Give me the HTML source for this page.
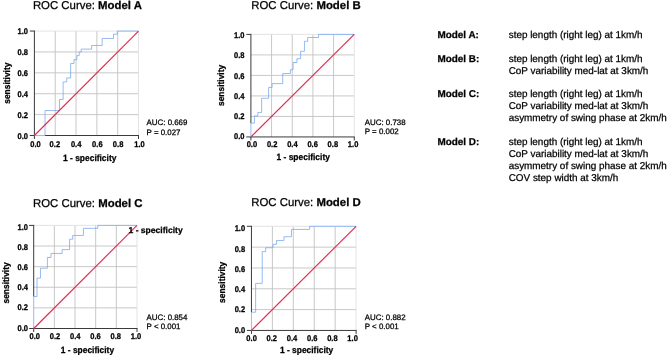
<!DOCTYPE html><html><head><meta charset="utf-8"><title>ROC curves</title><style>html,body{margin:0;padding:0;background:#fff}svg{display:block;will-change:transform}text{font-family:"Liberation Sans",sans-serif;fill:#000;stroke:#000;stroke-width:0.25px;text-rendering:geometricPrecision}</style></head><body>
<svg width="668" height="358" viewBox="0 0 668 358">
<rect width="668" height="358" fill="#fff"/>
<g>
<line x1="55.22" y1="31.05" x2="55.22" y2="135.50" stroke="#c2c2c2" stroke-width="0.9"/>
<line x1="34.40" y1="114.61" x2="138.50" y2="114.61" stroke="#c2c2c2" stroke-width="0.9"/>
<line x1="76.04" y1="31.05" x2="76.04" y2="135.50" stroke="#c2c2c2" stroke-width="0.9"/>
<line x1="34.40" y1="93.72" x2="138.50" y2="93.72" stroke="#c2c2c2" stroke-width="0.9"/>
<line x1="96.86" y1="31.05" x2="96.86" y2="135.50" stroke="#c2c2c2" stroke-width="0.9"/>
<line x1="34.40" y1="72.83" x2="138.50" y2="72.83" stroke="#c2c2c2" stroke-width="0.9"/>
<line x1="117.68" y1="31.05" x2="117.68" y2="135.50" stroke="#c2c2c2" stroke-width="0.9"/>
<line x1="34.40" y1="51.94" x2="138.50" y2="51.94" stroke="#c2c2c2" stroke-width="0.9"/>
<line x1="138.50" y1="31.05" x2="138.50" y2="135.50" stroke="#e0e0e0" stroke-width="0.9"/>
<line x1="34.40" y1="31.05" x2="138.50" y2="31.05" stroke="#e0e0e0" stroke-width="0.9"/>
<line x1="34.40" y1="30.55" x2="34.40" y2="136.00" stroke="#3a3a3a" stroke-width="1"/>
<line x1="34.40" y1="135.50" x2="34.40" y2="139.00" stroke="#3a3a3a" stroke-width="1"/>
<line x1="29.80" y1="135.50" x2="34.90" y2="135.50" stroke="#3a3a3a" stroke-width="1"/>
<line x1="45.02" y1="135.50" x2="139.00" y2="135.50" stroke="#3a3a3a" stroke-width="1"/>
<line x1="138.50" y1="135.50" x2="138.50" y2="139.00" stroke="#3a3a3a" stroke-width="1"/>
<line x1="29.80" y1="31.05" x2="34.40" y2="31.05" stroke="#3a3a3a" stroke-width="1"/>
<path d="M34.40 135.50 L45.02 135.50 L45.02 110.54 L59.49 110.54 L59.49 99.46 L63.13 99.46 L63.13 81.92 L66.78 81.92 L66.78 77.95 L70.63 77.95 L70.63 63.53 L73.96 63.53 L73.96 59.67 L76.87 59.67 L76.87 55.60 L79.16 55.60 L79.16 51.94 L81.25 51.94 L81.25 49.12 L91.66 49.12 L91.66 45.46 L102.17 45.46 L102.17 38.47 L113.52 38.47 L113.52 34.18 L117.26 34.18 L117.26 31.05 L138.50 31.05" fill="none" stroke="#72a6ef" stroke-width="0.75"/>
<line x1="34.40" y1="135.50" x2="138.50" y2="31.05" stroke="#e32a52" stroke-width="1.15"/>
<text transform="translate(35.50 147.00) scale(0.98 1.07)" font-size="7.7" font-weight="bold" text-anchor="middle">0.0</text>
<text transform="translate(28.00 139.00) scale(0.98 1.07)" font-size="7.7" font-weight="bold" text-anchor="end">0.0</text>
<text transform="translate(54.85 147.00) scale(0.98 1.07)" font-size="7.7" font-weight="bold" text-anchor="middle">0.2</text>
<text transform="translate(28.00 118.02) scale(0.98 1.07)" font-size="7.7" font-weight="bold" text-anchor="end">0.2</text>
<text transform="translate(76.15 147.00) scale(0.98 1.07)" font-size="7.7" font-weight="bold" text-anchor="middle">0.4</text>
<text transform="translate(28.00 97.04) scale(0.98 1.07)" font-size="7.7" font-weight="bold" text-anchor="end">0.4</text>
<text transform="translate(97.35 147.00) scale(0.98 1.07)" font-size="7.7" font-weight="bold" text-anchor="middle">0.6</text>
<text transform="translate(28.00 76.06) scale(0.98 1.07)" font-size="7.7" font-weight="bold" text-anchor="end">0.6</text>
<text transform="translate(118.10 147.00) scale(0.98 1.07)" font-size="7.7" font-weight="bold" text-anchor="middle">0.8</text>
<text transform="translate(28.00 55.08) scale(0.98 1.07)" font-size="7.7" font-weight="bold" text-anchor="end">0.8</text>
<text transform="translate(139.55 147.00) scale(0.98 1.07)" font-size="7.7" font-weight="bold" text-anchor="middle">1.0</text>
<text transform="translate(28.00 34.10) scale(0.98 1.07)" font-size="7.7" font-weight="bold" text-anchor="end">1.0</text>
<text transform="translate(89.70 160.50) scale(0.985 1.07)" font-size="8.55" font-weight="bold" text-anchor="middle">1 - specificity</text>
<text transform="translate(9.80 83.20) rotate(-90) scale(0.985 1.07)" font-size="8.55" font-weight="bold" text-anchor="middle">sensitivity</text>
<text x="32.9" y="9.4" font-size="11.4">ROC Curve: <tspan font-weight="bold">Model A</tspan></text>
<text x="146.6" y="124.8" font-size="7.9">AUC: 0.669</text>
<text x="146.6" y="134.60" font-size="7.9">P = 0.027</text>
</g>
<g>
<line x1="271.57" y1="34.40" x2="271.57" y2="136.95" stroke="#c2c2c2" stroke-width="0.9"/>
<line x1="250.90" y1="116.44" x2="354.25" y2="116.44" stroke="#c2c2c2" stroke-width="0.9"/>
<line x1="292.24" y1="34.40" x2="292.24" y2="136.95" stroke="#c2c2c2" stroke-width="0.9"/>
<line x1="250.90" y1="95.93" x2="354.25" y2="95.93" stroke="#c2c2c2" stroke-width="0.9"/>
<line x1="312.91" y1="34.40" x2="312.91" y2="136.95" stroke="#c2c2c2" stroke-width="0.9"/>
<line x1="250.90" y1="75.42" x2="354.25" y2="75.42" stroke="#c2c2c2" stroke-width="0.9"/>
<line x1="333.58" y1="34.40" x2="333.58" y2="136.95" stroke="#c2c2c2" stroke-width="0.9"/>
<line x1="250.90" y1="54.91" x2="354.25" y2="54.91" stroke="#c2c2c2" stroke-width="0.9"/>
<line x1="354.25" y1="34.40" x2="354.25" y2="136.95" stroke="#e0e0e0" stroke-width="0.9"/>
<line x1="250.90" y1="34.40" x2="354.25" y2="34.40" stroke="#e0e0e0" stroke-width="0.9"/>
<line x1="250.90" y1="33.90" x2="250.90" y2="123.11" stroke="#3a3a3a" stroke-width="1"/>
<line x1="250.90" y1="136.95" x2="250.90" y2="140.45" stroke="#3a3a3a" stroke-width="1"/>
<line x1="246.30" y1="136.95" x2="251.40" y2="136.95" stroke="#3a3a3a" stroke-width="1"/>
<line x1="250.90" y1="136.95" x2="354.75" y2="136.95" stroke="#3a3a3a" stroke-width="1"/>
<line x1="354.25" y1="136.95" x2="354.25" y2="140.45" stroke="#3a3a3a" stroke-width="1"/>
<line x1="246.30" y1="34.40" x2="250.90" y2="34.40" stroke="#3a3a3a" stroke-width="1"/>
<path d="M250.90 136.95 L250.90 123.11 L254.41 123.11 L254.41 115.93 L257.82 115.93 L257.82 112.44 L261.65 112.44 L261.65 98.29 L268.57 98.29 L268.57 87.42 L272.09 87.42 L272.09 83.62 L282.73 83.62 L282.73 73.57 L290.38 73.57 L290.38 69.78 L293.07 69.78 L293.07 62.50 L296.89 62.50 L296.89 58.70 L300.61 58.70 L300.61 51.32 L304.44 51.32 L304.44 41.27 L307.74 41.27 L307.74 37.48 L318.59 37.48 L318.59 34.40 L354.25 34.40" fill="none" stroke="#72a6ef" stroke-width="0.75"/>
<line x1="250.90" y1="136.95" x2="354.25" y2="34.40" stroke="#e32a52" stroke-width="1.15"/>
<text transform="translate(251.90 147.15) scale(0.98 1.07)" font-size="7.7" font-weight="bold" text-anchor="middle">0.0</text>
<text transform="translate(244.50 139.35) scale(0.98 1.07)" font-size="7.7" font-weight="bold" text-anchor="end">0.0</text>
<text transform="translate(272.14 147.15) scale(0.98 1.07)" font-size="7.7" font-weight="bold" text-anchor="middle">0.2</text>
<text transform="translate(244.50 119.12) scale(0.98 1.07)" font-size="7.7" font-weight="bold" text-anchor="end">0.2</text>
<text transform="translate(292.38 147.15) scale(0.98 1.07)" font-size="7.7" font-weight="bold" text-anchor="middle">0.4</text>
<text transform="translate(244.50 98.89) scale(0.98 1.07)" font-size="7.7" font-weight="bold" text-anchor="end">0.4</text>
<text transform="translate(312.62 147.15) scale(0.98 1.07)" font-size="7.7" font-weight="bold" text-anchor="middle">0.6</text>
<text transform="translate(244.50 78.66) scale(0.98 1.07)" font-size="7.7" font-weight="bold" text-anchor="end">0.6</text>
<text transform="translate(332.86 147.15) scale(0.98 1.07)" font-size="7.7" font-weight="bold" text-anchor="middle">0.8</text>
<text transform="translate(244.50 58.43) scale(0.98 1.07)" font-size="7.7" font-weight="bold" text-anchor="end">0.8</text>
<text transform="translate(353.10 147.15) scale(0.98 1.07)" font-size="7.7" font-weight="bold" text-anchor="middle">1.0</text>
<text transform="translate(244.50 38.20) scale(0.98 1.07)" font-size="7.7" font-weight="bold" text-anchor="end">1.0</text>
<text transform="translate(303.20 160.30) scale(0.985 1.07)" font-size="8.55" font-weight="bold" text-anchor="middle">1 - specificity</text>
<text transform="translate(224.40 85.40) rotate(-90) scale(0.985 1.07)" font-size="8.55" font-weight="bold" text-anchor="middle">sensitivity</text>
<text x="251.2" y="9.4" font-size="11.4">ROC Curve: <tspan font-weight="bold">Model B</tspan></text>
<text x="364.8" y="124.6" font-size="7.9">AUC: 0.738</text>
<text x="364.8" y="134.40" font-size="7.9">P = 0.002</text>
</g>
<g>
<line x1="54.36" y1="225.40" x2="54.36" y2="328.50" stroke="#c2c2c2" stroke-width="0.9"/>
<line x1="33.70" y1="307.88" x2="137.00" y2="307.88" stroke="#c2c2c2" stroke-width="0.9"/>
<line x1="75.02" y1="225.40" x2="75.02" y2="328.50" stroke="#c2c2c2" stroke-width="0.9"/>
<line x1="33.70" y1="287.26" x2="137.00" y2="287.26" stroke="#c2c2c2" stroke-width="0.9"/>
<line x1="95.68" y1="225.40" x2="95.68" y2="328.50" stroke="#c2c2c2" stroke-width="0.9"/>
<line x1="33.70" y1="266.64" x2="137.00" y2="266.64" stroke="#c2c2c2" stroke-width="0.9"/>
<line x1="116.34" y1="225.40" x2="116.34" y2="328.50" stroke="#c2c2c2" stroke-width="0.9"/>
<line x1="33.70" y1="246.02" x2="137.00" y2="246.02" stroke="#c2c2c2" stroke-width="0.9"/>
<line x1="137.00" y1="225.40" x2="137.00" y2="328.50" stroke="#e0e0e0" stroke-width="0.9"/>
<line x1="33.70" y1="225.40" x2="137.00" y2="225.40" stroke="#e0e0e0" stroke-width="0.9"/>
<line x1="33.70" y1="224.90" x2="33.70" y2="296.54" stroke="#3a3a3a" stroke-width="1"/>
<line x1="33.70" y1="328.50" x2="33.70" y2="332.00" stroke="#3a3a3a" stroke-width="1"/>
<line x1="29.10" y1="328.50" x2="34.20" y2="328.50" stroke="#3a3a3a" stroke-width="1"/>
<line x1="33.70" y1="328.50" x2="137.50" y2="328.50" stroke="#3a3a3a" stroke-width="1"/>
<line x1="137.00" y1="328.50" x2="137.00" y2="332.00" stroke="#3a3a3a" stroke-width="1"/>
<line x1="29.10" y1="225.40" x2="33.70" y2="225.40" stroke="#3a3a3a" stroke-width="1"/>
<path d="M33.70 328.50 L33.70 296.54 L37.01 296.54 L37.01 278.14 L40.47 278.14 L40.47 268.19 L47.40 268.19 L47.40 257.46 L51.03 257.46 L51.03 253.44 L62.12 253.44 L62.12 249.63 L69.57 249.63 L69.57 239.22 L72.69 239.22 L72.69 235.44 L83.42 235.44 L83.42 228.34 L97.80 228.34 L97.80 225.40 L137.00 225.40" fill="none" stroke="#72a6ef" stroke-width="0.75"/>
<line x1="33.70" y1="328.50" x2="137.00" y2="225.40" stroke="#e32a52" stroke-width="1.15"/>
<text transform="translate(34.80 338.50) scale(0.98 1.07)" font-size="7.7" font-weight="bold" text-anchor="middle">0.0</text>
<text transform="translate(28.00 330.65) scale(0.98 1.07)" font-size="7.7" font-weight="bold" text-anchor="end">0.0</text>
<text transform="translate(55.03 338.50) scale(0.98 1.07)" font-size="7.7" font-weight="bold" text-anchor="middle">0.2</text>
<text transform="translate(28.00 310.42) scale(0.98 1.07)" font-size="7.7" font-weight="bold" text-anchor="end">0.2</text>
<text transform="translate(75.26 338.50) scale(0.98 1.07)" font-size="7.7" font-weight="bold" text-anchor="middle">0.4</text>
<text transform="translate(28.00 290.19) scale(0.98 1.07)" font-size="7.7" font-weight="bold" text-anchor="end">0.4</text>
<text transform="translate(95.49 338.50) scale(0.98 1.07)" font-size="7.7" font-weight="bold" text-anchor="middle">0.6</text>
<text transform="translate(28.00 269.96) scale(0.98 1.07)" font-size="7.7" font-weight="bold" text-anchor="end">0.6</text>
<text transform="translate(115.72 338.50) scale(0.98 1.07)" font-size="7.7" font-weight="bold" text-anchor="middle">0.8</text>
<text transform="translate(28.00 249.73) scale(0.98 1.07)" font-size="7.7" font-weight="bold" text-anchor="end">0.8</text>
<text transform="translate(135.95 338.50) scale(0.98 1.07)" font-size="7.7" font-weight="bold" text-anchor="middle">1.0</text>
<text transform="translate(28.00 229.50) scale(0.98 1.07)" font-size="7.7" font-weight="bold" text-anchor="end">1.0</text>
<text transform="translate(87.40 353.45) scale(0.985 1.07)" font-size="8.55" font-weight="bold" text-anchor="middle">1 - specificity</text>
<text transform="translate(8.90 282.90) rotate(-90) scale(0.985 1.07)" font-size="8.55" font-weight="bold" text-anchor="middle">sensitivity</text>
<text x="33" y="207.0" font-size="11.4">ROC Curve: <tspan font-weight="bold">Model C</tspan></text>
<text x="146.6" y="319.65" font-size="7.9">AUC: 0.854</text>
<text x="146.6" y="329.45" font-size="7.9">P &lt; 0.001</text>
</g>
<g>
<line x1="272.38" y1="226.30" x2="272.38" y2="330.45" stroke="#c2c2c2" stroke-width="0.9"/>
<line x1="251.45" y1="309.62" x2="356.10" y2="309.62" stroke="#c2c2c2" stroke-width="0.9"/>
<line x1="293.31" y1="226.30" x2="293.31" y2="330.45" stroke="#c2c2c2" stroke-width="0.9"/>
<line x1="251.45" y1="288.79" x2="356.10" y2="288.79" stroke="#c2c2c2" stroke-width="0.9"/>
<line x1="314.24" y1="226.30" x2="314.24" y2="330.45" stroke="#c2c2c2" stroke-width="0.9"/>
<line x1="251.45" y1="267.96" x2="356.10" y2="267.96" stroke="#c2c2c2" stroke-width="0.9"/>
<line x1="335.17" y1="226.30" x2="335.17" y2="330.45" stroke="#c2c2c2" stroke-width="0.9"/>
<line x1="251.45" y1="247.13" x2="356.10" y2="247.13" stroke="#c2c2c2" stroke-width="0.9"/>
<line x1="356.10" y1="226.30" x2="356.10" y2="330.45" stroke="#e0e0e0" stroke-width="0.9"/>
<line x1="251.45" y1="226.30" x2="356.10" y2="226.30" stroke="#e0e0e0" stroke-width="0.9"/>
<line x1="251.45" y1="225.80" x2="251.45" y2="312.22" stroke="#3a3a3a" stroke-width="1"/>
<line x1="251.45" y1="330.45" x2="251.45" y2="333.95" stroke="#3a3a3a" stroke-width="1"/>
<line x1="246.85" y1="330.45" x2="251.95" y2="330.45" stroke="#3a3a3a" stroke-width="1"/>
<line x1="251.45" y1="330.45" x2="356.60" y2="330.45" stroke="#3a3a3a" stroke-width="1"/>
<line x1="356.10" y1="330.45" x2="356.10" y2="333.95" stroke="#3a3a3a" stroke-width="1"/>
<line x1="246.85" y1="226.30" x2="251.45" y2="226.30" stroke="#3a3a3a" stroke-width="1"/>
<path d="M251.45 330.45 L251.45 312.22 L255.64 312.22 L255.64 283.37 L262.23 283.37 L262.23 251.61 L265.68 251.61 L265.68 247.75 L273.01 247.75 L273.01 244.32 L276.46 244.32 L276.46 240.57 L283.89 240.57 L283.89 236.72 L291.43 236.72 L291.43 229.42 L309.64 229.42 L309.64 226.30 L356.10 226.30" fill="none" stroke="#72a6ef" stroke-width="0.75"/>
<line x1="251.45" y1="330.45" x2="356.10" y2="226.30" stroke="#e32a52" stroke-width="1.15"/>
<text transform="translate(251.60 341.25) scale(0.98 1.07)" font-size="7.7" font-weight="bold" text-anchor="middle">0.0</text>
<text transform="translate(245.10 332.55) scale(0.98 1.07)" font-size="7.7" font-weight="bold" text-anchor="end">0.0</text>
<text transform="translate(271.80 341.25) scale(0.98 1.07)" font-size="7.7" font-weight="bold" text-anchor="middle">0.2</text>
<text transform="translate(245.10 312.31) scale(0.98 1.07)" font-size="7.7" font-weight="bold" text-anchor="end">0.2</text>
<text transform="translate(292.00 341.25) scale(0.98 1.07)" font-size="7.7" font-weight="bold" text-anchor="middle">0.4</text>
<text transform="translate(245.10 292.07) scale(0.98 1.07)" font-size="7.7" font-weight="bold" text-anchor="end">0.4</text>
<text transform="translate(312.20 341.25) scale(0.98 1.07)" font-size="7.7" font-weight="bold" text-anchor="middle">0.6</text>
<text transform="translate(245.10 271.83) scale(0.98 1.07)" font-size="7.7" font-weight="bold" text-anchor="end">0.6</text>
<text transform="translate(332.40 341.25) scale(0.98 1.07)" font-size="7.7" font-weight="bold" text-anchor="middle">0.8</text>
<text transform="translate(245.10 251.59) scale(0.98 1.07)" font-size="7.7" font-weight="bold" text-anchor="end">0.8</text>
<text transform="translate(352.60 341.25) scale(0.98 1.07)" font-size="7.7" font-weight="bold" text-anchor="middle">1.0</text>
<text transform="translate(245.10 231.35) scale(0.98 1.07)" font-size="7.7" font-weight="bold" text-anchor="end">1.0</text>
<text transform="translate(306.60 353.45) scale(0.985 1.07)" font-size="8.55" font-weight="bold" text-anchor="middle">1 - specificity</text>
<text transform="translate(224.60 282.30) rotate(-90) scale(0.985 1.07)" font-size="8.55" font-weight="bold" text-anchor="middle">sensitivity</text>
<text x="251.2" y="206.4" font-size="11.4">ROC Curve: <tspan font-weight="bold">Model D</tspan></text>
<text x="364.8" y="319.6" font-size="7.9">AUC: 0.882</text>
<text x="364.8" y="329.40" font-size="7.9">P &lt; 0.001</text>
</g>
<text x="128.5" y="233.3" font-size="8.55" font-weight="bold">1 - specificity</text>
<text x="437.4" y="38.15" font-size="9.92" font-weight="bold">Model A:</text>
<text x="508.7" y="38.15" font-size="9.92">step length (right leg) at 1km/h</text>
<text x="437.4" y="61.9" font-size="9.92" font-weight="bold">Model B:</text>
<text x="508.7" y="61.90" font-size="9.92">step length (right leg) at 1km/h</text>
<text x="508.7" y="73.90" font-size="9.92">CoP variability med-lat at 3km/h</text>
<text x="437.4" y="97.15" font-size="9.92" font-weight="bold">Model C:</text>
<text x="508.7" y="97.15" font-size="9.92">step length (right leg) at 1km/h</text>
<text x="508.7" y="109.15" font-size="9.92">CoP variability med-lat at 3km/h</text>
<text x="508.7" y="121.15" font-size="9.92">asymmetry of swing phase at 2km/h</text>
<text x="437.4" y="145.15" font-size="9.92" font-weight="bold">Model D:</text>
<text x="508.7" y="145.15" font-size="9.92">step length (right leg) at 1km/h</text>
<text x="508.7" y="157.15" font-size="9.92">CoP variability med-lat at 3km/h</text>
<text x="508.7" y="169.15" font-size="9.92">asymmetry of swing phase at 2km/h</text>
<text x="508.7" y="181.15" font-size="9.92">COV step width at 3km/h</text>
</svg></body></html>
